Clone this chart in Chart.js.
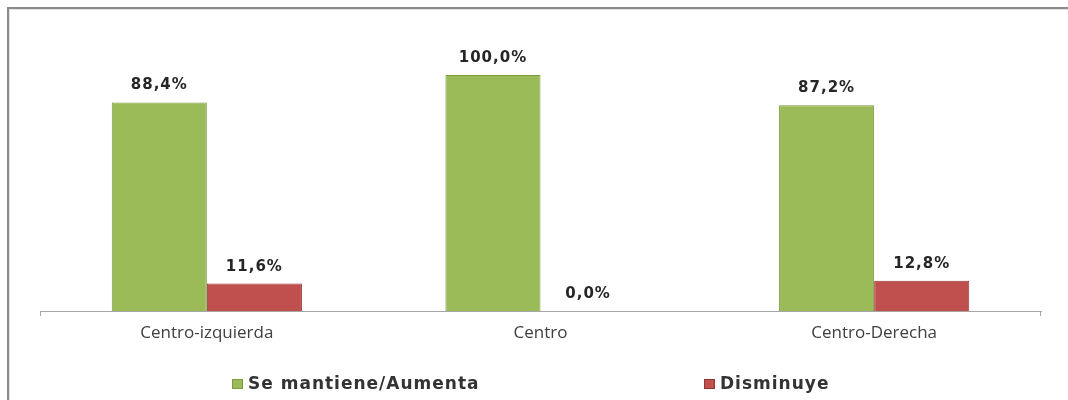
<!DOCTYPE html>
<html lang="es">
<head>
  <meta charset="UTF-8" />
  <script src="https://cdn.jsdelivr.net/npm/chart.js"></script>
  <title>Gráfico</title>
  <style>
    body { margin: 0; background: #fff; }
    .wrap { position: relative; width: 1068px; height: 400px; overflow: hidden; }
    .frame {
      position: absolute; left: 7px; top: 7px; width: 1100px; height: 440px;
      border: 2px solid #8a8a8a; box-shadow: inset 1px 1px 0 #e4e4e4;
    }
    canvas { position: absolute; left: 0; top: 0; }
  </style>
</head>
<body>
  <div class="wrap">
    <div class="frame"></div>
    <canvas id="grafico" width="1068" height="400"></canvas>
  </div>

  <script>
    // datos del gráfico
    const categorias = ["Centro-izquierda", "Centro", "Centro-Derecha"];
    const seMantiene = [88.4, 100.0, 87.2];
    const disminuye = [11.6, 0.0, 12.8];
    const nombresSeries = ["Se mantiene/Aumenta", "Disminuye"];

    const verde = "#9bbb59";
    const rojo = "#c0504d";

    function formato(v) {
      return v.toFixed(1).replace(".", ",") + "%";
    }

    // etiquetas de valor encima de las barras, marcas del eje y leyenda
    const extras = {
      id: "extras",
      afterDatasetsDraw(chart) {
        const ctx = chart.ctx;
        ctx.save();
        ctx.font = "bold 15px 'DejaVu Sans'";
        ctx.letterSpacing = "1px";
        ctx.fillStyle = "#262626";
        ctx.textAlign = "center";
        ctx.textBaseline = "alphabetic";
        chart.data.datasets.forEach((ds, i) => {
          chart.getDatasetMeta(i).data.forEach((bar, j) => {
            ctx.fillText(formato(ds.data[j]), bar.x, bar.y - 13);
          });
        });

        // marcas en los extremos del eje
        const a = chart.chartArea;
        ctx.strokeStyle = "#a6a6a6";
        ctx.lineWidth = 1;
        ctx.beginPath();
        ctx.moveTo(a.left + 0.5, a.bottom);
        ctx.lineTo(a.left + 0.5, a.bottom + 5);
        ctx.moveTo(a.right - 0.5, a.bottom);
        ctx.lineTo(a.right - 0.5, a.bottom + 5);
        ctx.stroke();
        ctx.restore();
      },
      afterDraw(chart) {
        const ctx = chart.ctx;
        const posX = [232, 704];
        const y = 384;
        ctx.save();
        ctx.font = "bold 17px 'DejaVu Sans'";
        ctx.letterSpacing = "1px";
        ctx.textAlign = "left";
        ctx.textBaseline = "middle";
        chart.data.datasets.forEach((ds, i) => {
          const x = posX[i];
          ctx.fillStyle = ds.backgroundColor;
          ctx.fillRect(x, y - 5, 11, 10);
          ctx.strokeStyle = ds.borderColor;
          ctx.strokeRect(x + 0.5, y - 4.5, 10, 9);
          ctx.fillStyle = "#333";
          ctx.fillText(ds.label, x + 16, y + 1);
        });
        ctx.restore();
      }
    };

    new Chart(document.getElementById("grafico"), {
      type: "bar",
      data: {
        labels: categorias,
        datasets: [
          {
            label: nombresSeries[0],
            data: seMantiene,
            backgroundColor: verde,
            borderColor: "#7a9a3c",
            borderWidth: 1,
          },
          {
            label: nombresSeries[1],
            data: disminuye,
            backgroundColor: rojo,
            borderColor: "#963633",
            borderWidth: 1,
          },
        ],
      },
      options: {
        responsive: false,
        animation: false,
        devicePixelRatio: 1,
        layout: { padding: { left: 40, right: 27, top: 75, bottom: 0 } },
        categoryPercentage: 0.57,
        barPercentage: 1.0,
        plugins: {
          legend: { display: false },
          tooltip: { enabled: false },
        },
        scales: {
          x: {
            grid: { display: false, drawTicks: false },
            border: { display: true, color: "#a6a6a6", width: 1 },
            ticks: {
              color: "#404040",
              font: { family: "'Open Sans'", size: 17 },
              padding: 12,
            },
            afterFit(scale) {
              scale.height = 89;
            },
          },
          y: {
            display: false,
            min: 0,
            max: 100,
          },
        },
      },
      plugins: [extras],
    });
  </script>
</body>
</html>
